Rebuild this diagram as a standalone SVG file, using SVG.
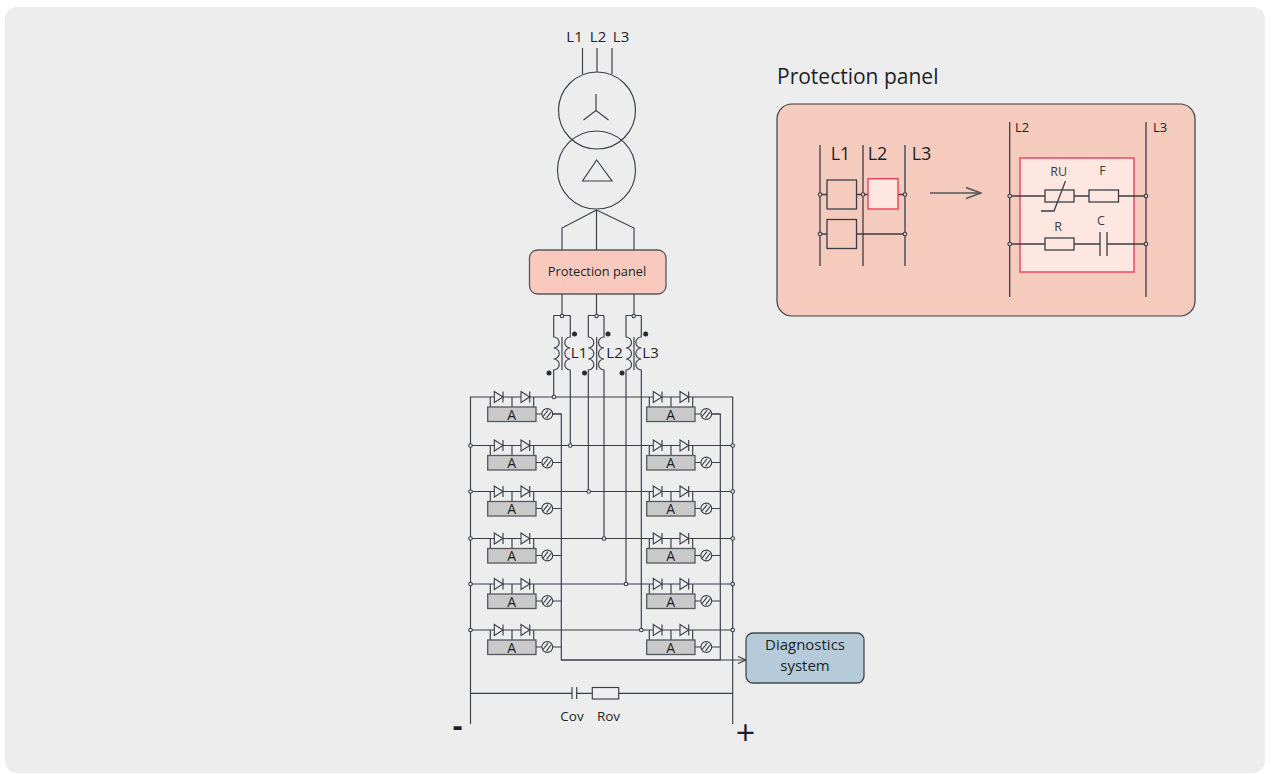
<svg xmlns="http://www.w3.org/2000/svg" width="1271" height="774" viewBox="0 0 1271 774">
<style>
text{font-family:"Open Sans","Noto Sans","Liberation Sans",sans-serif;fill:#1d1f24}
.m{text-anchor:middle}
.l{fill:none;stroke:#3a3d48;stroke-width:1.15}
.b{fill:none;stroke:#3a3d48;stroke-width:1.3}
.d{fill:#ededed;stroke:#3a3d48;stroke-width:1.1}
.k{fill:#2a2d38;stroke:none}
.red{fill:#fde7e0;stroke:#ee3d5a;stroke-width:1.4}
.mod{fill:#c9c9c9;stroke:#55585f;stroke-width:1.3}
.sub{fill:#3a3d48}
</style>
<defs>
<g id="module">
<path class="l" d="M2.6 0V10M24.3 0V10M46 0V10"/>
<rect class="mod" x="0" y="10" width="48.3" height="14.5"/>
<path class="d" d="M6.6 -5.5L15.3 0L6.6 5.5Z"/>
<path class="l" d="M15.3 -5.5V5.5"/>
<path class="d" d="M33.3 -5.5L42 0L33.3 5.500Z"/>
<path class="l" d="M42 -5.5V5.5"/>
<path class="l" d="M48.3 17H54M65.2 17H73.6"/>
<circle class="d" cx="59.6" cy="17" r="5.4"/>
<path class="l" d="M55.4 19.5L60.4 13.2M58.8 20.8L63.8 14.5"/>
</g>
<marker id="open" markerWidth="10" markerHeight="10" refX="9" refY="5" orient="auto" markerUnits="userSpaceOnUse"><path d="M1 1.5L9 5L1 8.5" fill="none" stroke="#3a3d48" stroke-width="1.1"/></marker>
<marker id="openBig" markerWidth="18" markerHeight="14" refX="16" refY="7" orient="auto" markerUnits="userSpaceOnUse"><path d="M1 1.5L16 7L1 12.5" fill="none" stroke="#555" stroke-width="1.6"/></marker>
</defs>
<rect x="5" y="7" width="1260" height="766" rx="12" fill="#ededed"/>

<g id="connectors">
<path class="l" d="M582.5 48V74M597 48V72M612 48V74"/>
<path class="l" d="M596.5 210L562 228V250M596.5 210V250M596.5 210L634 228V250"/>
<path class="l" d="M562 294V316M596.5 294V316M634 294V316"/>
<path class="l" d="M553.7 315.5H570.3M588.3 315.5H604M626 315.5H641.3"/>
<path class="l" d="M553.7 315.5V337a5.5 5.5 0 0 1 0 11a5.5 5.5 0 0 1 0 11a5.5 5.5 0 0 1 0 11V397"/>
<path class="l" d="M570.3 315.5V337a5.5 5.5 0 0 0 0 11a5.5 5.5 0 0 0 0 11a5.5 5.5 0 0 0 0 11V445.5"/>
<path class="l" d="M588.3 315.5V337a5.5 5.5 0 0 1 0 11a5.5 5.5 0 0 1 0 11a5.5 5.5 0 0 1 0 11V491.5"/>
<path class="l" d="M604 315.5V337a5.5 5.5 0 0 0 0 11a5.5 5.5 0 0 0 0 11a5.5 5.5 0 0 0 0 11V538.5"/>
<path class="l" d="M626 315.5V337a5.5 5.5 0 0 1 0 11a5.5 5.5 0 0 1 0 11a5.5 5.5 0 0 1 0 11V584"/>
<path class="l" d="M641.3 315.5V337a5.5 5.5 0 0 0 0 11a5.5 5.5 0 0 0 0 11a5.5 5.5 0 0 0 0 11V630"/>
<path class="l" d="M562 337V370M596.7 337V370M634 337V370"/>
<path class="l" d="M470.5 724V397H732.7V724"/>
<path class="l" d="M470.5 445.5H732.7M470.5 491.5H732.7M470.5 538.5H732.7M470.5 584H732.7M470.5 630H732.7"/>
<path class="l" d="M553 414H561.3V660H720.3V414H712"/>
<path class="l" d="M561.3 660H746" marker-end="url(#open)"/>
<path class="l" d="M470.5 693.3H572M576.7 693.3H592.3M618.7 693.3H732.7"/>
</g>

<g id="transformer">
<circle class="l" cx="597" cy="110.5" r="38.5"/>
<circle class="l" cx="596.5" cy="170" r="39"/>
<path class="l" d="M596 94V110.5M583.5 120L596 110.5L608.5 120"/>
<path class="l" d="M596.7 160L612 181H582.5Z"/>
</g>
<g id="overvoltage-branch">
<path class="l" d="M572 687V699M576.7 687V699"/>
<rect class="l" x="592.3" y="687.5" width="26.4" height="11.5"/>
</g>
<g id="phase-labels">
<text x="574.5" y="42" font-size="15" class="m">L1</text>
<text x="598" y="42" font-size="15" class="m">L2</text>
<text x="621" y="42" font-size="15" class="m">L3</text>
</g>

<g id="protection-node">
<rect x="529.5" y="250" width="136.5" height="44" rx="8" fill="#f9c9bd" stroke="#55585f" stroke-width="1.3"/>
<text x="597" y="275.5" font-size="12.8" class="m">Protection panel</text>
</g>

<g id="windings">
<circle class="k" cx="574.5" cy="334" r="2.5"/><circle class="k" cx="608" cy="334" r="2.5"/><circle class="k" cx="645.7" cy="334" r="2.5"/>
<circle class="k" cx="549" cy="373" r="2.5"/><circle class="k" cx="584.5" cy="373" r="2.5"/><circle class="k" cx="622" cy="373" r="2.5"/>
<circle class="d" cx="562" cy="316" r="1.7"/><circle class="d" cx="596.5" cy="316" r="1.7"/><circle class="d" cx="633.7" cy="316" r="1.7"/>
<text x="579" y="357.5" font-size="15" class="m">L1</text>
<text x="614.5" y="357.5" font-size="15" class="m">L2</text>
<text x="650.5" y="357.5" font-size="15" class="m">L3</text>
</g>

<g id="junctions">
<circle class="d" cx="554" cy="397" r="1.8"/><circle class="d" cx="570.3" cy="445.5" r="1.8"/><circle class="d" cx="588.7" cy="491.5" r="1.8"/><circle class="d" cx="604" cy="538.5" r="1.8"/><circle class="d" cx="626" cy="584" r="1.8"/><circle class="d" cx="641.3" cy="630" r="1.8"/>
<circle class="d" cx="470.5" cy="445.5" r="1.8"/><circle class="d" cx="470.5" cy="491.5" r="1.8"/><circle class="d" cx="470.5" cy="538.5" r="1.8"/><circle class="d" cx="470.5" cy="584" r="1.8"/><circle class="d" cx="470.5" cy="630" r="1.8"/>
<circle class="d" cx="732.7" cy="445.5" r="1.8"/><circle class="d" cx="732.7" cy="491.5" r="1.8"/><circle class="d" cx="732.7" cy="538.5" r="1.8"/><circle class="d" cx="732.7" cy="584" r="1.8"/><circle class="d" cx="732.7" cy="630" r="1.8"/>
</g>

<g id="module-l1"><use href="#module" x="487.7" y="397"/><text x="511.8" y="419.5" font-size="14" class="m">A</text></g>
<g id="module-l2"><use href="#module" x="487.7" y="445.5"/><text x="511.8" y="468" font-size="14" class="m">A</text></g>
<g id="module-l3"><use href="#module" x="487.7" y="491.5"/><text x="511.8" y="514" font-size="14" class="m">A</text></g>
<g id="module-l4"><use href="#module" x="487.7" y="538.5"/><text x="511.8" y="561" font-size="14" class="m">A</text></g>
<g id="module-l5"><use href="#module" x="487.7" y="584"/><text x="511.8" y="606.5" font-size="14" class="m">A</text></g>
<g id="module-l6"><use href="#module" x="487.7" y="630"/><text x="511.8" y="652.5" font-size="14" class="m">A</text></g>
<g id="module-r1"><use href="#module" x="646.7" y="397"/><text x="670.8" y="419.5" font-size="14" class="m">A</text></g>
<g id="module-r2"><use href="#module" x="646.7" y="445.5"/><text x="670.8" y="468" font-size="14" class="m">A</text></g>
<g id="module-r3"><use href="#module" x="646.7" y="491.5"/><text x="670.8" y="514" font-size="14" class="m">A</text></g>
<g id="module-r4"><use href="#module" x="646.7" y="538.5"/><text x="670.8" y="561" font-size="14" class="m">A</text></g>
<g id="module-r5"><use href="#module" x="646.7" y="584"/><text x="670.8" y="606.5" font-size="14" class="m">A</text></g>
<g id="module-r6"><use href="#module" x="646.7" y="630"/><text x="670.8" y="652.5" font-size="14" class="m">A</text></g>

<g id="diagnostics-node">
<rect x="746" y="633" width="118" height="50" rx="7" fill="#b5cbd9" stroke="#45484f" stroke-width="1.3"/>
<text x="805" y="650" font-size="15" class="m">Diagnostics</text>
<text x="805" y="671" font-size="15" class="m">system</text>
</g>
<g id="bottom-labels">
<text x="572" y="721" font-size="13.5" class="m">Cov</text>
<text x="608.5" y="721" font-size="13.5" class="m">Rov</text>
<text x="457.5" y="736" font-size="30" font-weight="700" class="m">-</text>
<text x="745.5" y="745" font-size="34" class="m">+</text>
</g>

<g id="panel-title"><text x="777" y="84" font-size="21">Protection panel</text></g>
<g id="protection-detail">
<rect x="777" y="104" width="418" height="212" rx="15" fill="#f4cbbd" stroke="#3a3d48" stroke-width="1.2"/>
<path class="b" d="M820 145V266M863 145V266M905 145V266"/>
<text x="840.5" y="160" font-size="18" class="m">L1</text>
<text x="877.5" y="160" font-size="18" class="m">L2</text>
<text x="921.5" y="160" font-size="18" class="m">L3</text>
<path class="b" d="M820 194.5H827M856.5 194.5H868M898 194.5H905M820 234H827M856.5 234H905"/>
<rect class="b" x="827" y="180" width="29.5" height="29"/>
<rect class="b" x="827" y="219.5" width="29.5" height="29"/>
<rect class="red" x="868" y="178.7" width="30" height="30.3"/>
<g fill="#f4cbbd" stroke="#3a3d48" stroke-width="1.1"><circle cx="820" cy="194.5" r="1.8"/><circle cx="863" cy="194.5" r="1.8"/><circle cx="905" cy="194.5" r="1.8"/><circle cx="820" cy="234" r="1.8"/><circle cx="905" cy="234" r="1.8"/></g>
<path d="M930 193H981" fill="none" stroke="#555" stroke-width="1.6" marker-end="url(#openBig)"/>

<rect class="red" x="1020" y="158" width="114" height="114"/>
<path class="b" d="M1009.7 122V297M1146 122V297"/>
<text x="1015" y="132" font-size="13">L2</text>
<text x="1153" y="132" font-size="13">L3</text>
<path class="b" d="M1009.7 196H1045M1074 196H1089M1118.5 196H1146M1009.7 244H1045M1074 244H1100M1107 244H1146"/>
<rect class="b" x="1045" y="190" width="29" height="12"/>
<rect class="b" x="1089" y="190" width="29.5" height="12"/>
<rect class="b" x="1045" y="238" width="29" height="12"/>
<path class="b" d="M1065.5 181L1054 211H1041M1100 232V256M1107 232V256"/>
<g fill="#f4cbbd" stroke="#3a3d48" stroke-width="1.1"><circle cx="1009.7" cy="196" r="1.8"/><circle cx="1146" cy="196" r="1.8"/><circle cx="1009.7" cy="244" r="1.8"/><circle cx="1146" cy="244" r="1.8"/></g>
<text x="1058.7" y="176" font-size="12.5" class="m sub">RU</text>
<text x="1102.5" y="175" font-size="12.5" class="m sub">F</text>
<text x="1058" y="231" font-size="12.5" class="m sub">R</text>
<text x="1101" y="225" font-size="12.5" class="m sub">C</text>
</g>
</svg>
